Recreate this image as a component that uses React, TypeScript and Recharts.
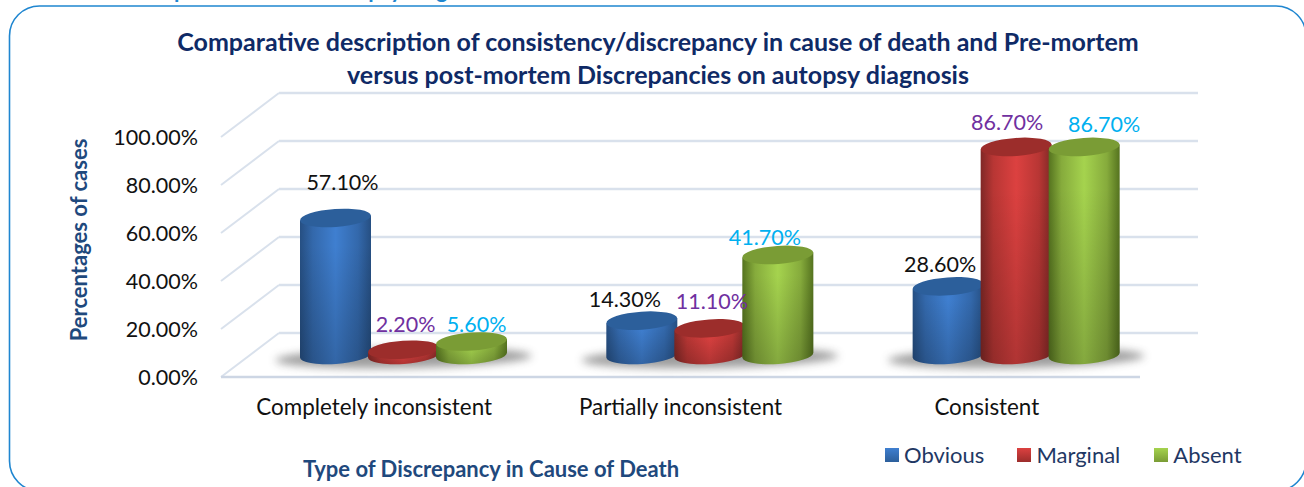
import React from 'react';
import { Bar, BarChart, CartesianGrid, LabelList, Legend, XAxis, YAxis } from 'recharts';

const categories = ['Completely inconsistent', 'Partially inconsistent', 'Consistent'];
const obvious = [57.1, 14.3, 28.6];
const marginal = [2.2, 11.1, 86.7];
const absent = [5.6, 41.7, 86.7];
const yTicks = [0, 20, 40, 60, 80, 100];

const chartData = categories.map((name, i) => ({
  name,
  Obvious: obvious[i],
  Marginal: marginal[i],
  Absent: absent[i],
}));

const FONT = 'Lato, sans-serif';
// the plot is drawn in mid-depth of the fake 3d box, walls sit half a depth behind / in front
const DEPTH_X = 29;
const DEPTH_Y = 22;
const TILT = -4;
const RY = 9;

const tones: Record<string, { edge: string; soft: string; mid: string; cap: string }> = {
  blue: { edge: '#264f82', soft: '#3368ab', mid: '#3f7fd0', cap: '#2c5f9b' },
  red: { edge: '#7f2826', soft: '#b83634', mid: '#dc4140', cap: '#9c2d2b' },
  green: { edge: '#55731f', soft: '#86ab3c', mid: '#a5d34e', cap: '#7a9c35' },
};

// label nudges from the top of each bar, the original chart has them hand placed
const nudgeObvious = [[7, -35], [-17, -21], [-8, -21]];
const nudgeMarginal = [[2, -25], [2, -26], [-9, -24]];
const nudgeAbsent = [[5, -17], [-13, -17], [20, -22]];

function Cylinder(props: any) {
  const { x, y, width, height, tone, index, withShadow } = props;
  const rx = width / 2;
  const cx = x + rx;
  const base = y + height;
  const t = rx * Math.sin((-TILT * Math.PI) / 180);
  const body = `M${x},${y + t} L${x},${base + t} A${rx},${RY} ${TILT} 0 0 ${x + width},${base - t} L${x + width},${y - t} Z`;
  return (
    <g key={index}>
      {withShadow && (
        <ellipse
          cx={cx + 68}
          cy={base + 3}
          rx={128}
          ry={10}
          fill="#4d4d4d"
          opacity={0.55}
          filter="url(#floorShadow)"
          transform={`rotate(-1 ${cx + 68} ${base + 3})`}
        />
      )}
      <path d={body} fill={`url(#side-${tone})`} />
      <path d={body} fill="url(#sideFade)" />
      <ellipse
        cx={cx}
        cy={y}
        rx={rx}
        ry={RY}
        fill={tones[tone].cap}
        transform={`rotate(${TILT} ${cx} ${y})`}
      />
    </g>
  );
}

function GridLine(props: any) {
  const { x1, x2, y1, y, height, index } = props;
  const stroke = '#d9e1ec';
  const isFloor = Math.abs(y1 - (y + height)) < 0.5;
  return (
    <g key={index}>
      <line x1={x1 - DEPTH_X} y1={y1 + DEPTH_Y} x2={x1 + DEPTH_X} y2={y1 - DEPTH_Y} stroke={stroke} strokeWidth={2} />
      <line x1={x1 + DEPTH_X} y1={y1 - DEPTH_Y} x2={x2 + DEPTH_X} y2={y1 - DEPTH_Y} stroke={stroke} strokeWidth={2.5} />
      {isFloor && (
        <line x1={x1 - DEPTH_X} y1={y1 + DEPTH_Y} x2={x2 - DEPTH_X} y2={y1 + DEPTH_Y} stroke="#cdd6e4" strokeWidth={2.5} />
      )}
    </g>
  );
}

function YTick({ y, payload }: any) {
  return (
    <text x={198} y={y + DEPTH_Y} dy={8} textAnchor="end" fontSize={21.5} fontFamily={FONT} fill="#111">
      {payload.value.toFixed(2)}%
    </text>
  );
}

function XTick({ x, y, payload }: any) {
  return (
    <text x={x - DEPTH_X} y={y + 52} textAnchor="middle" fontSize={22.4} fontFamily={FONT} fill="#111">
      {payload.value}
    </text>
  );
}

const valueLabel = (color: string, nudges: number[][]) => (props: any) => {
  const { x, y, width, value, index } = props;
  const [dx, dy] = nudges[index];
  return (
    <text
      x={x + width / 2 + dx}
      y={y + dy + 7}
      textAnchor="middle"
      fontSize={21.5}
      fontFamily={FONT}
      fill={color}
    >
      {value.toFixed(2)}%
    </text>
  );
};

function LegendRow({ payload }: any) {
  const gaps = [0, 33, 34];
  return (
    <div style={{ display: 'flex', fontFamily: FONT, fontSize: 22, color: '#1f3864', lineHeight: '26px' }}>
      {(payload || []).map((entry: any, i: number) => (
        <div key={entry.value} style={{ display: 'flex', alignItems: 'center', marginLeft: gaps[i] }}>
          <svg width={14} height={14} style={{ marginRight: 5 }}>
            <rect width={14} height={14} fill={entry.color} />
          </svg>
          {entry.value}
        </div>
      ))}
    </div>
  );
}

export default function App() {
  return (
    <div style={{ position: 'fixed', left: 0, top: 0, width: 1304, height: 487, background: '#fff', overflow: 'hidden' }}>
      <BarChart
        width={1304}
        height={487}
        data={chartData}
        margin={{ top: 115, right: 135, bottom: 0, left: 0 }}
        barSize={71}
        barGap={-3}
      >
        <defs>
          {Object.keys(tones).map((k) => (
            <linearGradient key={k} id={`side-${k}`} x1="0" y1="0" x2="1" y2="0">
              <stop offset="0" stopColor={tones[k].edge} />
              <stop offset="0.18" stopColor={tones[k].soft} />
              <stop offset="0.5" stopColor={tones[k].mid} />
              <stop offset="0.82" stopColor={tones[k].soft} />
              <stop offset="1" stopColor={tones[k].edge} />
            </linearGradient>
          ))}
          <linearGradient id="sideFade" x1="0" y1="0" x2="0" y2="1">
            <stop offset="0.2" stopColor="#000" stopOpacity={0} />
            <stop offset="1" stopColor="#000" stopOpacity={0.2} />
          </linearGradient>
          <filter id="floorShadow" x="-10%" y="-80%" width="120%" height="260%">
            <feGaussianBlur stdDeviation="4" />
          </filter>
          <linearGradient id="key-blue" x1="0" y1="0" x2="0" y2="1">
            <stop offset="0" stopColor="#3f7fd0" />
            <stop offset="1" stopColor="#2c5f9b" />
          </linearGradient>
          <linearGradient id="key-red" x1="0" y1="0" x2="0" y2="1">
            <stop offset="0" stopColor="#dc4140" />
            <stop offset="1" stopColor="#9c2d2b" />
          </linearGradient>
          <linearGradient id="key-green" x1="0" y1="0" x2="0" y2="1">
            <stop offset="0" stopColor="#a5d34e" />
            <stop offset="1" stopColor="#7a9c35" />
          </linearGradient>
        </defs>

        <rect x={9.5} y={6} width={1296.5} height={485} rx={30} ry={30} fill="none" stroke="#1f86d0" strokeWidth={1.6} />
        <text x={174} y={-2} fontSize={22} fontWeight={700} fontFamily={FONT} fill="#1f86d0">
          p
        </text>
        <text x={324} y={-2} fontSize={22} fontWeight={700} fontFamily={FONT} fill="#1f86d0">
          autopsy diagnosis
        </text>

        <text x={658} y={51} textAnchor="middle" fontSize={25} fontWeight={700} fontFamily={FONT} fill="#0f2a66">
          Comparative description of consistency/discrepancy in cause of death and Pre-mortem
        </text>
        <text x={658} y={84} textAnchor="middle" fontSize={25} fontWeight={700} fontFamily={FONT} fill="#0f2a66">
          versus post-mortem Discrepancies on autopsy diagnosis
        </text>
        <text x={491} y={477} textAnchor="middle" fontSize={22} fontWeight={700} fontFamily={FONT} fill="#1f497d">
          Type of Discrepancy in Cause of Death
        </text>
        <text
          x={87}
          y={240}
          textAnchor="middle"
          fontSize={22}
          fontWeight={700}
          fontFamily={FONT}
          fill="#1f497d"
          transform="rotate(-90 87 240)"
        >
          Percentages of cases
        </text>

        <CartesianGrid vertical={false} horizontal={(p: any) => <GridLine {...p} />} />
        <XAxis dataKey="name" height={132} axisLine={false} tickLine={false} interval={0} tick={<XTick />} />
        <YAxis domain={[0, 100]} ticks={yTicks} width={250} axisLine={false} tickLine={false} tick={<YTick />} />
        <Legend
          layout="horizontal"
          verticalAlign="middle"
          itemSorter={null}
          content={<LegendRow />}
          wrapperStyle={{ left: 885, top: 442, width: 400 }}
        />
        <Bar
          dataKey="Obvious"
          fill="url(#key-blue)"
          isAnimationActive={false}
          shape={(p: any) => <Cylinder {...p} tone="blue" withShadow />}
        >
          <LabelList dataKey="Obvious" content={valueLabel('#111111', nudgeObvious)} />
        </Bar>
        <Bar
          dataKey="Marginal"
          fill="url(#key-red)"
          isAnimationActive={false}
          shape={(p: any) => <Cylinder {...p} tone="red" />}
        >
          <LabelList dataKey="Marginal" content={valueLabel('#7030a0', nudgeMarginal)} />
        </Bar>
        <Bar
          dataKey="Absent"
          fill="url(#key-green)"
          isAnimationActive={false}
          shape={(p: any) => <Cylinder {...p} tone="green" />}
        >
          <LabelList dataKey="Absent" content={valueLabel('#00b0f0', nudgeAbsent)} />
        </Bar>
      </BarChart>
    </div>
  );
}
